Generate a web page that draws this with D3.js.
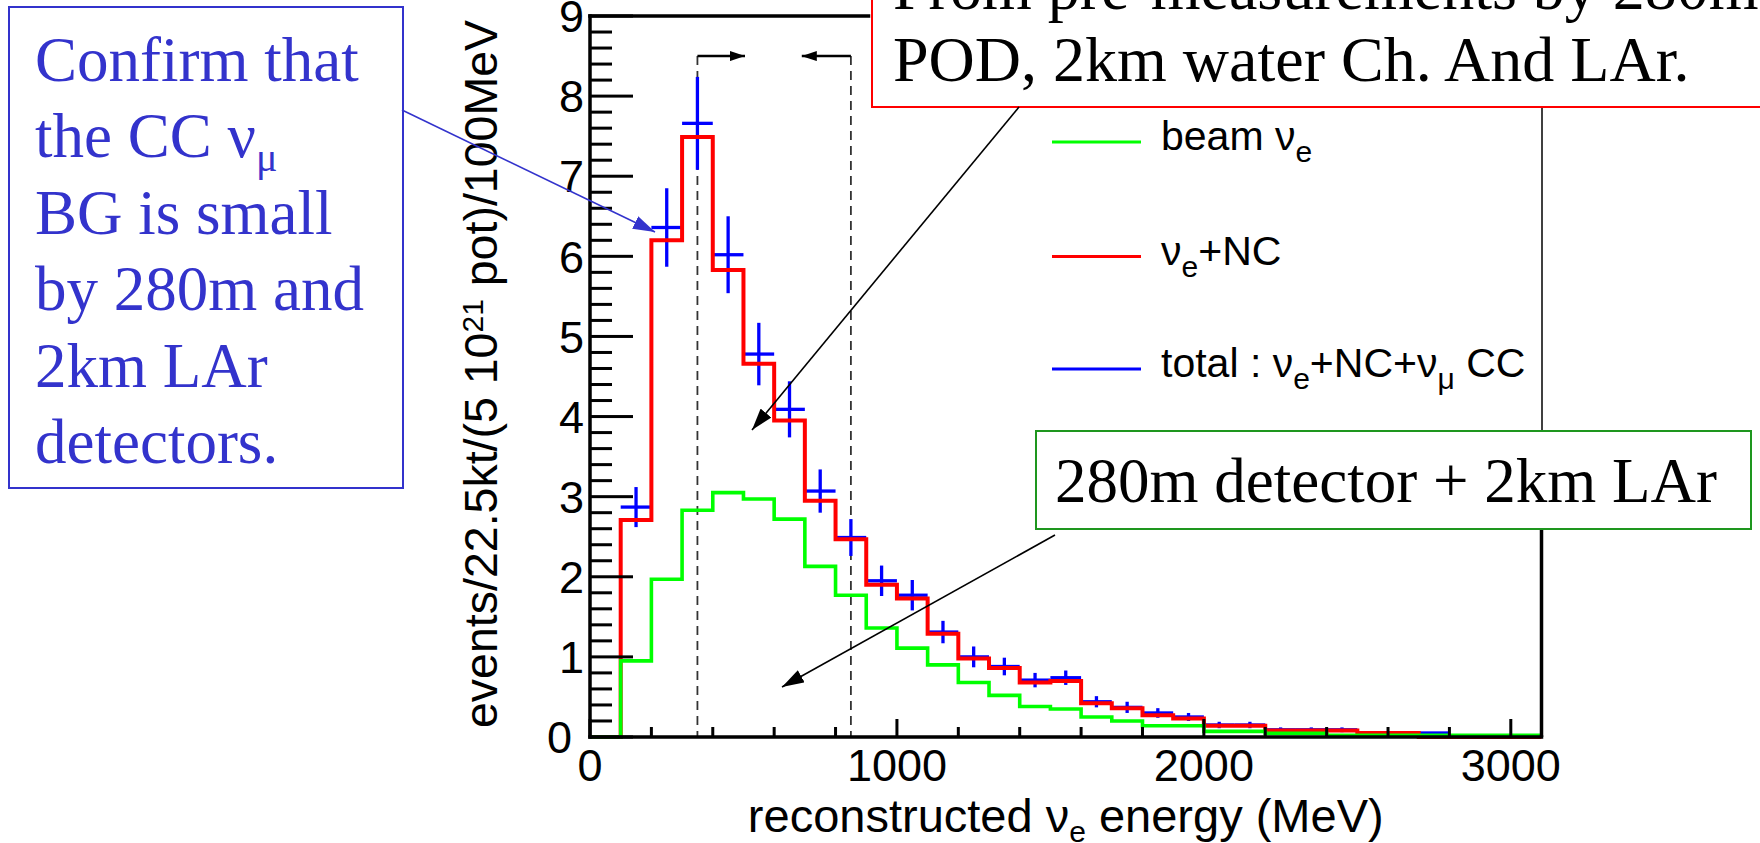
<!DOCTYPE html>
<html>
<head>
<meta charset="utf-8">
<script src="https://cdn.jsdelivr.net/npm/d3@7"></script>
<style>
  html, body { margin: 0; padding: 0; background: #fff; }
  svg { display: block; }
</style>
</head>
<body>
<div id="chart"></div>
<script>
// Reconstructed nu_e energy spectrum, 100 MeV bins (low edge of each bin, MeV)
const binStart = [0, 100, 200, 300, 400, 500, 600, 700, 800, 900,
    1000, 1100, 1200, 1300, 1400, 1500, 1600, 1700, 1800, 1900,
    2000, 2100, 2200, 2300, 2400, 2500, 2600, 2700, 2800, 2900, 3000];
const binWidth = 100;

// beam nu_e (green)
const beamNuE = [0, 0.95, 1.97, 2.83, 3.05, 2.97, 2.72, 2.13, 1.77, 1.36,
    1.11, 0.90, 0.68, 0.52, 0.38, 0.35, 0.25, 0.20, 0.14, 0.14,
    0.07, 0.07, 0.045, 0.045, 0.02, 0.02, 0.02, 0.02, 0.02, 0.02, 0.02];

// nu_e + NC (red)
const nueNC = [0, 2.71, 6.20, 7.49, 5.83, 4.66, 3.95, 2.95, 2.47, 1.90,
    1.73, 1.29, 0.98, 0.86, 0.68, 0.70, 0.42, 0.36, 0.27, 0.23,
    0.14, 0.14, 0.08, 0.08, 0.08, 0.05, 0.05, 0, 0, 0, 0];

// total : nu_e + NC + nu_mu CC (blue crosses) and its error bars
const totalVals = [0, 2.87, 6.36, 7.66, 6.02, 4.78, 4.09, 3.07, 2.49, 1.95,
    1.77, 1.31, 1.00, 0.88, 0.71, 0.74, 0.44, 0.37, 0.30, 0.25,
    0.15, 0.15, 0.09, 0.09, 0.09, 0.05, 0.05, 0.05, 0, 0, 0];
const totalErrs = [0, 0.25, 0.49, 0.58, 0.48, 0.39, 0.35, 0.27, 0.23, 0.19,
    0.19, 0.14, 0.13, 0.11, 0.09, 0.09, 0.07, 0.07, 0.06, 0.05,
    0.04, 0.04, 0.03, 0.03, 0.03, 0, 0, 0, 0, 0, 0];

// axis ticks
const xMajorTicks = [0, 1000, 2000, 3000];
const xMinorTicks = [200, 400, 600, 800, 1200, 1400, 1600, 1800, 2200, 2400, 2600, 2800];
const yMajorTicks = [0, 1, 2, 3, 4, 5, 6, 7, 8, 9];
const yMinorTicks = [0.2, 0.4, 0.6, 0.8, 1.2, 1.4, 1.6, 1.8, 2.2, 2.4, 2.6, 2.8,
    3.2, 3.4, 3.6, 3.8, 4.2, 4.4, 4.6, 4.8, 5.2, 5.4, 5.6, 5.8, 6.2, 6.4, 6.6, 6.8,
    7.2, 7.4, 7.6, 7.8, 8.2, 8.4, 8.6, 8.8];

// energy cut window (MeV)
const cutWindow = [350, 850];

const legendItems = [
    { key: "beam", color: "#00ff00" },
    { key: "nenc", color: "#ff0000" },
    { key: "total", color: "#0000ff" }
];

const width = 1760;
const height = 843;
const sans = "'Liberation Sans', Arial, Helvetica, sans-serif";
const serif = "'Liberation Serif', 'Times New Roman', serif";

const svg = d3.select("#chart").append("svg")
    .attr("width", width)
    .attr("height", height)
    .attr("viewBox", [0, 0, width, height]);

const x = d3.scaleLinear().domain([0, 3100]).range([590, 1541.5]);
const y = d3.scaleLinear().domain([0, 9]).range([737, 16]);

// arrow heads
const defs = svg.append("defs");
const addMarker = (id, color, len, wid) => {
    defs.append("marker")
        .attr("id", id)
        .attr("viewBox", `0 0 ${len} ${wid}`)
        .attr("refX", len).attr("refY", wid / 2)
        .attr("markerWidth", len).attr("markerHeight", wid)
        .attr("markerUnits", "userSpaceOnUse")
        .attr("orient", "auto")
        .append("path")
        .attr("d", `M0,0L${len},${wid / 2}L0,${wid}Z`)
        .attr("fill", color);
};
addMarker("headBlack", "#000", 22, 14);
addMarker("headBlue", "#3333cc", 22, 14);
addMarker("headSmall", "#000", 15, 10);

// tick labels
svg.append("g")
    .attr("font-family", sans)
    .attr("font-size", 45)
    .attr("text-anchor", "end")
    .selectAll("text")
    .data(yMajorTicks)
    .join("text")
    // ROOT pushes the "0" label left so it does not collide with the x axis "0"
    .attr("x", d => d === 0 ? x(0) - 18 : x(0) - 6)
    .attr("y", d => y(d))
    .attr("dy", "0.36em")
    .text(d => d);

svg.append("g")
    .attr("font-family", sans)
    .attr("font-size", 45)
    .attr("text-anchor", "middle")
    .selectAll("text")
    .data(xMajorTicks)
    .join("text")
    .attr("x", d => x(d))
    .attr("y", y(0) + 44)
    .text(d => d);

// axis titles
const xTitle = svg.append("text")
    .attr("x", (x(0) + x(3100)) / 2).attr("y", 832)
    .attr("text-anchor", "middle")
    .attr("font-family", sans).attr("font-size", 47);
xTitle.append("tspan").text("reconstructed \u03bd");
xTitle.append("tspan").attr("font-size", 30).attr("dy", 10).text("e");
xTitle.append("tspan").attr("dy", -10).text(" energy (MeV)");

const yTitle = svg.append("text")
    .attr("transform", `translate(497,374) rotate(-90)`)
    .attr("text-anchor", "middle")
    .attr("font-family", sans).attr("font-size", 46.5);
yTitle.append("tspan").text("events/22.5kt/(5 10");
yTitle.append("tspan").attr("font-size", 30).attr("dy", -14).text("21");
yTitle.append("tspan").attr("dy", 14).text(" pot)/100MeV");

// ---- energy cut window ----
const cutY = y(8.5);
svg.append("g")
    .selectAll("line")
    .data(cutWindow)
    .join("line")
    .attr("x1", d => x(d)).attr("x2", d => x(d))
    .attr("y1", cutY).attr("y2", y(0))
    .attr("stroke", "#333").attr("stroke-width", 1.8)
    .attr("stroke-dasharray", "9,6");

svg.append("g")
    .selectAll("line")
    .data([[cutWindow[0], cutWindow[0] + 155], [cutWindow[1], cutWindow[1] - 160]])
    .join("line")
    .attr("x1", d => x(d[0])).attr("x2", d => x(d[1]))
    .attr("y1", cutY).attr("y2", cutY)
    .attr("stroke", "#000").attr("stroke-width", 2.4)
    .attr("marker-end", "url(#headSmall)");

// ---- histograms ----
const stepPath = vals => {
    const pts = binStart.map((b, i) => [b, vals[i]]);
    pts.push([binStart[binStart.length - 1] + binWidth, vals[vals.length - 1]]);
    return d3.line()
        .x(d => x(d[0]))
        .y(d => y(d[1]))
        .curve(d3.curveStepAfter)(pts);
};

// total with error bars (drawn first, the red line sits over it)
const points = binStart
    .map((b, i) => ({ lo: b, v: totalVals[i], e: totalErrs[i] }))
    .filter(d => d.v > 0);

const cross = svg.append("g")
    .attr("stroke", "#0000ff")
    .attr("stroke-width", 3.3);
cross.selectAll("line.h")
    .data(points)
    .join("line")
    .attr("class", "h")
    .attr("x1", d => x(d.lo)).attr("x2", d => x(d.lo + binWidth))
    .attr("y1", d => y(d.v)).attr("y2", d => y(d.v));
cross.selectAll("line.v")
    .data(points.filter(d => d.e > 0))
    .join("line")
    .attr("class", "v")
    .attr("x1", d => x(d.lo + binWidth / 2)).attr("x2", d => x(d.lo + binWidth / 2))
    .attr("y1", d => y(d.v + d.e)).attr("y2", d => y(d.v - d.e));

svg.append("path")
    .attr("d", stepPath(nueNC))
    .attr("fill", "none")
    .attr("stroke", "#ff0000")
    .attr("stroke-width", 4);

svg.append("path")
    .attr("d", stepPath(beamNuE))
    .attr("fill", "none")
    .attr("stroke", "#00ff00")
    .attr("stroke-width", 3.6);

// ---- legend ----
svg.append("line")
    .attr("x1", 1542).attr("x2", 1542).attr("y1", 105).attr("y2", 432)
    .attr("stroke", "#000").attr("stroke-width", 1.5);

const legendRows = [142, 256.5, 369];
const legend = svg.append("g")
    .attr("font-family", sans)
    .attr("font-size", 41)
    .selectAll("g")
    .data(legendItems)
    .join("g")
    .attr("transform", (d, i) => `translate(1052,${legendRows[i]})`);

legend.append("line")
    .attr("x1", 0).attr("x2", 89)
    .attr("stroke", d => d.color)
    .attr("stroke-width", 3.2);

legend.append("text")
    .attr("x", 109).attr("y", 8)
    .each(function (d) {
        const t = d3.select(this);
        const sub = s => t.append("tspan").attr("font-size", 30).attr("dy", 12).text(s);
        const back = s => t.append("tspan").attr("dy", -12).text(s);
        if (d.key === "beam") {
            t.append("tspan").text("beam \u03bd");
            sub("e");
        } else if (d.key === "nenc") {
            t.append("tspan").text("\u03bd");
            sub("e");
            back("+NC");
        } else {
            t.append("tspan").text("total : \u03bd");
            sub("e");
            back("+NC+\u03bd");
            sub("\u03bc");
            back(" CC");
        }
    });

// ---- frame and inward ticks (ROOT style) ----
const frame = svg.append("g").attr("fill", "#000");
const tickBars = [
    ...yMinorTicks.map(v => ({ x: x(0), y: y(v) - 1.5, w: 22, h: 3 })),
    ...yMajorTicks.map(v => ({ x: x(0), y: y(v) - 1.5, w: 43, h: 3 })),
    ...xMinorTicks.map(v => ({ x: x(v) - 1.5, y: y(0) - 10, w: 3, h: 10 })),
    ...xMajorTicks.map(v => ({ x: x(v) - 1.5, y: y(0) - 18, w: 3, h: 18 }))
];
frame.selectAll("rect.tick")
    .data(tickBars)
    .join("rect")
    .attr("class", "tick")
    .attr("x", d => d.x).attr("y", d => d.y)
    .attr("width", d => d.w).attr("height", d => d.h);

// frame border: left, bottom, top, and the right edge below the legend
frame.append("rect").attr("x", x(0) - 1.75).attr("y", y(9) - 1.75).attr("width", 3.5).attr("height", y(0) - y(9) + 3.5);
frame.append("rect").attr("x", x(0) - 1.75).attr("y", y(0) - 1.75).attr("width", x(3100) - x(0) + 3.5).attr("height", 3.5);
frame.append("rect").attr("x", x(0) - 1.75).attr("y", y(9) - 1.75).attr("width", 872 - x(0)).attr("height", 3.5);
frame.append("rect").attr("x", x(3100) - 1.75).attr("y", 529).attr("width", 3.5).attr("height", y(0) - 529);

// ---- annotation boxes ----
// blue box on the left
svg.append("rect")
    .attr("x", 9).attr("y", 7).attr("width", 394).attr("height", 481)
    .attr("fill", "#fff").attr("stroke", "#3333cc").attr("stroke-width", 2);

const blueLines = ["Confirm that", "the CC \u03bd", "BG is small", "by 280m and", "2km LAr", "detectors."];
const blueText = svg.append("g")
    .attr("font-family", serif)
    .attr("font-size", 63)
    .attr("fill", "#3333cc");
blueLines.forEach((s, i) => {
    const t = blueText.append("text").attr("x", 35).attr("y", 81 + i * 76.4);
    t.append("tspan").text(s);
    if (i === 1) t.append("tspan").attr("font-size", 40).attr("dy", 14).text("\u03bc");
});

svg.append("line")
    .attr("x1", 402).attr("y1", 110)
    .attr("x2", 655).attr("y2", 232)
    .attr("stroke", "#3333cc").attr("stroke-width", 1.6)
    .attr("marker-end", "url(#headBlue)");

// red box at the top
svg.append("rect")
    .attr("x", 872).attr("y", -10).attr("width", 900).attr("height", 117)
    .attr("fill", "#fff").attr("stroke", "#ff0000").attr("stroke-width", 2);

const redText = svg.append("g")
    .attr("font-family", serif)
    .attr("font-size", 64)
    .attr("fill", "#000");
["From pre-measurements by 280m", "POD, 2km water Ch. And LAr."].forEach((s, i) => {
    redText.append("text").attr("x", 893).attr("y", 9 + i * 72).text(s);
});

svg.append("line")
    .attr("x1", 1019).attr("y1", 107)
    .attr("x2", 752).attr("y2", 430)
    .attr("stroke", "#000").attr("stroke-width", 1.6)
    .attr("marker-end", "url(#headBlack)");

// green box
svg.append("rect")
    .attr("x", 1036).attr("y", 431).attr("width", 715).attr("height", 98)
    .attr("fill", "#fff").attr("stroke", "#1e961e").attr("stroke-width", 2);

svg.append("text")
    .attr("x", 1055).attr("y", 502)
    .attr("font-family", serif)
    .attr("font-size", 63)
    .attr("fill", "#000")
    .text("280m detector + 2km LAr");

svg.append("line")
    .attr("x1", 1055).attr("y1", 535)
    .attr("x2", 782).attr("y2", 687)
    .attr("stroke", "#000").attr("stroke-width", 1.6)
    .attr("marker-end", "url(#headBlack)");
</script>
</body>
</html>
